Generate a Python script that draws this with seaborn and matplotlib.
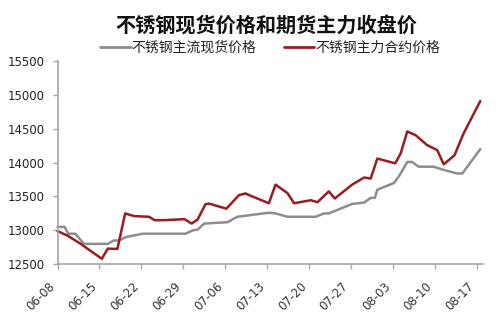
import matplotlib
matplotlib.use("Agg")
import matplotlib.pyplot as plt
import seaborn as sns
import pandas as pd

# ---- data (day offset from 06-08, value) ----
spot_days = [0, 1.2, 1.8, 3.0, 4.4, 8.4, 9.4, 10.3, 11.4, 14.2, 21.4, 22.6, 23.4, 24.5,
             28.4, 30.0, 35.3, 36.4, 38.4, 43.1, 44.5, 45.3, 49.2, 51.2, 52.3, 53.0,
             53.4, 56.2, 57.1, 58.4, 59.2, 60.3, 62.8, 64.2, 66.7, 67.6, 70.6]
spot_vals = [13050, 13050, 12950, 12950, 12800, 12800, 12850, 12850, 12900, 12950, 12950,
             13000, 13010, 13100, 13120, 13200, 13260, 13250, 13200, 13200, 13250, 13250,
             13390, 13410, 13480, 13480, 13600, 13700, 13810, 14010, 14010, 13940, 13940,
             13900, 13840, 13840, 14200]

fut_days = [0, 1.7, 3.7, 7.4, 8.4, 10.0, 11.3, 12.8, 15.3, 16.2, 17.8, 21.2, 22.4, 23.4,
            24.7, 25.3, 28.2, 30.3, 31.4, 32.0, 35.3, 36.4, 38.4, 39.5, 42.3, 43.4, 45.3,
            46.3, 49.2, 51.2, 52.3, 53.4, 56.4, 57.3, 58.4, 59.8, 61.7, 63.4, 64.5, 66.3,
            67.8, 70.6]
fut_vals = [12990, 12920, 12810, 12580, 12730, 12725, 13250, 13210, 13200, 13150, 13150,
            13165, 13100, 13160, 13385, 13395, 13320, 13520, 13545, 13520, 13400, 13675,
            13550, 13400, 13445, 13415, 13575, 13470, 13675, 13780, 13765, 14060, 13990,
            14136, 14460, 14405, 14260, 14185, 13975, 14110, 14430, 14910]

series_names = ["不锈钢主流现货价格", "不锈钢主力合约价格"]
tick_days = [0, 7, 14, 21, 28, 35, 42, 49, 56, 63, 70]
tick_labels = ["06-08", "06-15", "06-22", "06-29", "07-06", "07-13",
               "07-20", "07-27", "08-03", "08-10", "08-17"]
y_ticks = [12500, 13000, 13500, 14000, 14500, 15000, 15500]
title = "不锈钢现货价格和期货主力收盘价"

df = pd.concat([
    pd.DataFrame({"day": spot_days, "value": spot_vals, "series": series_names[0]}),
    pd.DataFrame({"day": fut_days, "value": fut_vals, "series": series_names[1]}),
], ignore_index=True)

sns.set_style("white")
plt.rcParams["font.family"] = ["DejaVu Sans"]

fig = plt.figure(figsize=(5.0, 3.29), dpi=100)
ax = fig.add_axes([0.115, 0.197, 0.8516, 0.6174])

palette = {series_names[0]: "#8d8d8d", series_names[1]: "#9a1c20"}
sns.lineplot(data=df, x="day", y="value", hue="series", palette=palette,
             linewidth=1.8, ax=ax, legend=False, clip_on=False, sort=False)

ax.set_xlim(0, 71.1)
ax.set_ylim(12500, 15500)
ax.set_yticks(y_ticks)
ax.set_yticklabels([str(v) for v in y_ticks], fontsize=8.5, color="#222222")
ax.set_xticks(tick_days)
ax.set_xticklabels(tick_labels, rotation=45, ha="right", fontsize=8.5, color="#333333")
ax.set_xlabel("")
ax.set_ylabel("")

for s in ["top", "right"]:
    ax.spines[s].set_visible(False)
for s in ["left", "bottom"]:
    ax.spines[s].set_color("#a6a6a6")
    ax.spines[s].set_linewidth(1.2)
ax.tick_params(axis="both", which="major", length=3.5, width=1, color="#a6a6a6",
               direction="out", left=True, bottom=True)
ax.tick_params(axis="x", pad=8)
ax.tick_params(axis="y", pad=6)

cjk = ["Noto Sans CJK SC", "DejaVu Sans"]
fig.text(0.532, 1 - 25 / 329, title, ha="center", va="center",
         fontsize=14.5, fontweight="bold", family=cjk, color="#111111")

from matplotlib.lines import Line2D
handles = [Line2D([0], [0], color=palette[n], linewidth=2) for n in series_names]
leg = fig.legend(handles, series_names, loc="center", ncol=2, frameon=False,
                 bbox_to_anchor=(0.54, 1 - 48 / 329), prop={"family": cjk, "size": 10},
                 handlelength=2.2, handletextpad=0.05, columnspacing=2.0)
for t in leg.get_texts():
    t.set_color("#222222")

fig.savefig("out.png", dpi=100, facecolor="white")
